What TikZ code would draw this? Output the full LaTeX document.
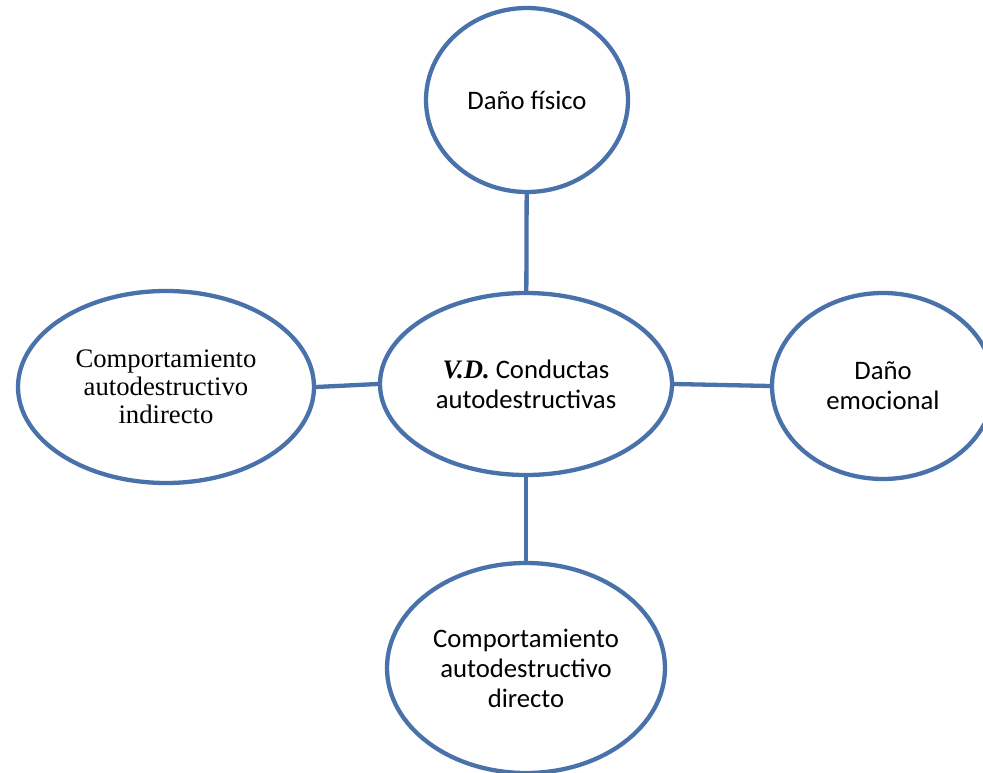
\documentclass[tikz,border=0pt]{standalone}
\usepackage{fontspec}
\setmainfont{Carlito}
\newfontfamily\timesfont{Liberation Serif}
\usepackage{tikz}
\usetikzlibrary{shapes.geometric}
\definecolor{elblue}{RGB}{74,114,170}
\tikzstyle{oval} = [draw=elblue, line width=4.3pt, fill=white, ellipse,
    inner sep=0pt, align=center, font=\fontsize{26.7}{30}\selectfont]
\tikzstyle{link} = [draw=elblue, line width=4.3pt]

\begin{document}
\begin{tikzpicture}[x=1pt, y=-1pt]
                \useasboundingbox (0,0) rectangle (983,773);
                \node [oval, minimum width=292pt, minimum height=182pt] (vd) at (526,384)
                    {{\timesfont\bfseries\itshape V.D.} Conductas\\autodestructivas};
                \node [oval, minimum width=202pt, minimum height=184pt] (fisico) at (527,100)
                    {Daño físico};
                \node [oval, minimum width=296pt, minimum height=192pt,
                    font=\timesfont\fontsize{26.7}{28}\selectfont] (indirecto) at (166,387)
                    {Comportamiento\\autodestructivo\\indirecto};
                \node [oval, minimum width=222pt, minimum height=186pt] (emocional) at (883,386)
                    {Daño\\emocional};
                \node [oval, minimum width=278pt, minimum height=210pt] (directo) at (526,668)
                    {Comportamiento\\autodestructivo\\directo};
                % connectors
                \draw [link] (fisico) -- (vd);
                \draw [link] (indirecto.east) -- (vd.west);
                \draw [link] (vd.east) -- (emocional.west);
                \draw [link] (vd) -- (directo);
            \end{tikzpicture}
\end{document}
